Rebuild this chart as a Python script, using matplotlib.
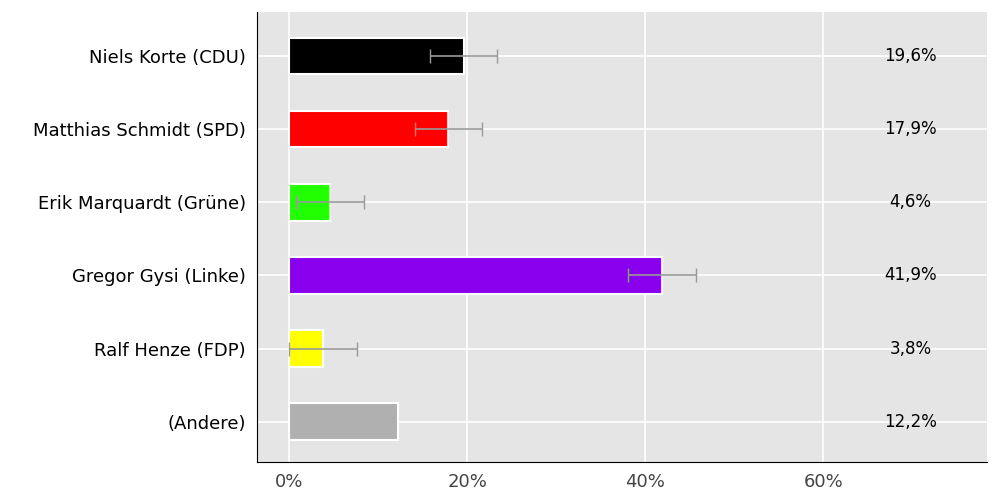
import matplotlib
matplotlib.use("Agg")
import matplotlib.pyplot as plt
import numpy as np

names = ["Niels Korte (CDU)", "Matthias Schmidt (SPD)", "Erik Marquardt (Grüne)",
         "Gregor Gysi (Linke)", "Ralf Henze (FDP)", "(Andere)"]
values = [19.6, 17.9, 4.6, 41.9, 3.8, 12.2]
err_low = [15.8, 14.1, 0.8, 38.1, 0.0, np.nan]
err_high = [23.4, 21.7, 8.4, 45.7, 7.6, np.nan]
colors = ["#000000", "#ff0000", "#22ff00", "#8800ee", "#ffff00", "#b0b0b0"]
labels = ["19,6%", "17,9%", "4,6%", "41,9%", "3,8%", "12,2%"]

fig = plt.figure(figsize=(10, 5), dpi=100)
ax = fig.add_axes([0.257, 0.076, 0.73, 0.9])
ax.set_facecolor("#e5e5e5")
y = np.arange(len(names))
ax.barh(y, values, height=0.5, color=colors, edgecolor="white", linewidth=1.5, zorder=3)
for i in range(len(names)):
    if not np.isnan(err_low[i]):
        ax.errorbar(values[i], y[i],
                    xerr=[[values[i]-err_low[i]], [err_high[i]-values[i]]],
                    fmt="none", ecolor="#999999", elinewidth=1.2, capsize=5, zorder=4)
    ax.text(69.8, y[i], labels[i], ha="center", va="center", fontsize=12, zorder=5)
ax.set_yticks(y)
ax.set_yticklabels(names, fontsize=13)
ax.set_ylim(len(names)-0.45, -0.6)
ax.set_xlim(-3.6, 78.4)
ax.set_xticks([0, 20, 40, 60])
ax.set_xticklabels(["0%", "20%", "40%", "60%"], fontsize=13, color="#444444")
ax.grid(True, color="white", linewidth=1.2, zorder=0)
ax.set_axisbelow(True)
ax.tick_params(length=0, pad=8)
for s in ["top", "right"]:
    ax.spines[s].set_visible(False)
fig.savefig("out.png")
